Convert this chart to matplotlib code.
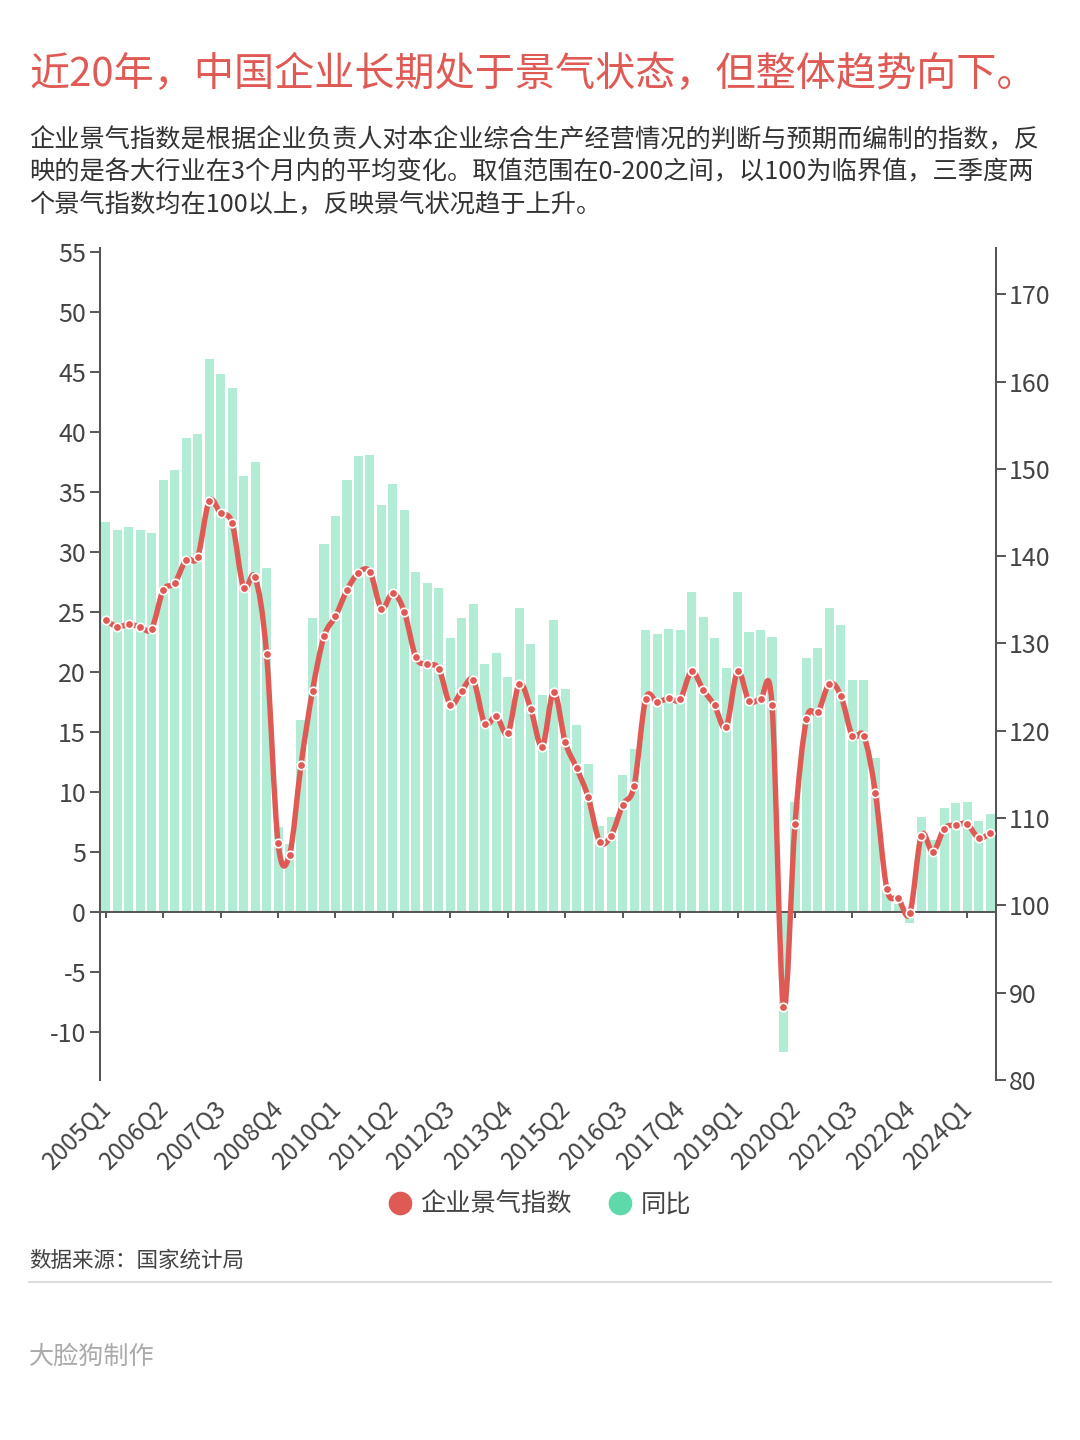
import numpy as np
import matplotlib
matplotlib.use('Agg')
from matplotlib import pyplot as plt
from matplotlib.lines import Line2D
from matplotlib.patches import PathPatch
from matplotlib.path import Path

plt.rcParams['font.family'] = ['Noto Sans CJK SC', 'DejaVu Sans']
plt.rcParams['axes.unicode_minus'] = False

# DATA
title = '近20年，中国企业长期处于景气状态，但整体趋势向下。'
intro = ['企业景气指数是根据企业负责人对本企业综合生产经营情况的判断与预期而编制的指数，反',
         '映的是各大行业在3个月内的平均变化。取值范围在0-200之间，以100为临界值，三季度两',
         '个景气指数均在100以上，反映景气状况趋于上升。']
source = '数据来源：国家统计局'
maker = '大脸狗制作'
series_names = ['企业景气指数', '同比']

# every 5th category gets a label
tick_labels = ['2005Q1', '2006Q2', '2007Q3', '2008Q4', '2010Q1', '2011Q2', '2012Q3', '2013Q4',
               '2015Q2', '2016Q3', '2017Q4', '2019Q1', '2020Q2', '2021Q3', '2022Q4', '2024Q1']

index_values = [132.7, 131.9, 132.2, 131.9, 131.7, 136.1, 136.9, 139.6, 139.9, 146.3,
                144.9, 143.8, 136.4, 137.6, 128.8, 107.2, 105.8, 116.1, 124.6, 130.8,
                133.1, 136.1, 138.1, 138.2, 134.0, 135.8, 133.6, 128.4, 127.6, 127.1,
                123.0, 124.6, 125.8, 120.8, 121.7, 119.7, 125.4, 122.5, 118.2, 124.5,
                118.7, 115.7, 112.4, 107.3, 108.0, 111.5, 113.7, 123.6, 123.3, 123.7,
                123.6, 126.8, 124.7, 122.9, 120.4, 126.8, 123.4, 123.6, 123.0, 88.4,
                109.3, 121.3, 122.1, 125.4, 124.0, 119.4, 119.4, 112.9, 101.9, 100.8,
                99.1, 108.0, 106.1, 108.8, 109.2, 109.3, 107.7, 108.3]

yoy_values = [32.5, 31.8, 32.1, 31.8, 31.6, 36.0, 36.8, 39.5, 39.8, 46.1,
              44.8, 43.7, 36.3, 37.5, 28.65, 7.1, 5.7, 16.0, 24.5, 30.7,
              33.0, 36.0, 38.0, 38.1, 33.9, 35.7, 33.5, 28.3, 27.4, 27.0,
              22.85, 24.5, 25.7, 20.7, 21.6, 19.6, 25.3, 22.35, 18.1, 24.35,
              18.6, 15.6, 12.3, 7.2, 7.9, 11.4, 13.55, 23.5, 23.2, 23.55,
              23.5, 26.65, 24.6, 22.8, 20.3, 26.65, 23.3, 23.5, 22.9, -11.7,
              9.15, 21.2, 22.0, 25.3, 23.9, 19.3, 19.3, 12.8, 1.8, 0.7,
              -0.95, 7.9, 6.0, 8.7, 9.05, 9.2, 7.6, 8.15]

left_ticks = [-10, -5, 0, 5, 10, 15, 20, 25, 30, 35, 40, 45, 50, 55]
right_ticks = [80, 90, 100, 110, 120, 130, 140, 150, 160, 170]

RED = '#e05a55'
GREEN = '#5fd9a9'
DARK = '#444444'
AXIS = '#555555'

W, H = 1080, 1440
fig = plt.figure(figsize=(W / 100, H / 100), dpi=100, facecolor='w')


def fy(y):
    return 1 - y / H


ax = fig.add_axes([100 / W, fy(1080), 896 / W, 832 / H])
ax2 = ax.twinx()

x = np.arange(len(yoy_values))
ax.bar(x, yoy_values, width=0.79, color=GREEN, alpha=0.48, linewidth=0)
ax.set_xlim(-0.5, len(x) - 0.5)
ax.set_ylim(-14, 55.33)
ax2.set_ylim(80, 175.3)

# smooth line: cardinal spline through the points, written as bezier segments
pts = np.column_stack([x, index_values]).astype(float)
n = len(pts)
verts = [tuple(pts[0])]
codes = [Path.MOVETO]
for i in range(n - 1):
    before = pts[max(i - 1, 0)]
    after = pts[min(i + 2, n - 1)]
    verts.append(tuple(pts[i] + (pts[i + 1] - before) / 6))
    verts.append(tuple(pts[i + 1] - (after - pts[i]) / 6))
    verts.append(tuple(pts[i + 1]))
    codes += [Path.CURVE4, Path.CURVE4, Path.CURVE4]
ax2.add_patch(PathPatch(Path(verts, codes), fill=False, edgecolor=RED, linewidth=3.9,
                        capstyle='round', joinstyle='round'))
ax2.plot(x, index_values, linestyle='none', marker='o', markersize=6.1,
         markerfacecolor=RED, markeredgecolor='white', markeredgewidth=1.2, zorder=5)

# axes
for a in (ax, ax2):
    a.spines['top'].set_visible(False)
    a.spines['left'].set_color(AXIS)
    a.spines['right'].set_color(AXIS)
    a.spines['left'].set_linewidth(1.4)
    a.spines['right'].set_linewidth(1.4)
    a.patch.set_visible(False)
ax.spines['bottom'].set_position(('data', 0))
ax.spines['bottom'].set_color(AXIS)
ax.spines['bottom'].set_linewidth(1.4)
ax2.spines['bottom'].set_visible(False)

ax.set_yticks(left_ticks)
ax.set_yticklabels([str(t) for t in left_ticks])
ax2.set_yticks(right_ticks)
ax.tick_params(axis='y', length=7.5, width=1.4, color=AXIS, labelcolor=DARK, labelsize=18, pad=2.5)
ax2.tick_params(axis='y', length=7.5, width=1.4, color=AXIS, labelcolor=DARK, labelsize=18, pad=1.5)

tick_pos = x[::5]
ax.set_xticks(tick_pos)
ax.tick_params(axis='x', length=4.5, width=1.4, color=AXIS, labelbottom=False)
for i, label in zip(tick_pos, tick_labels):
    ax.annotate(label, xy=(i, 0), xycoords=ax.get_xaxis_transform(),
                xytext=(-5, -11), textcoords='offset points', rotation=45,
                ha='right', va='top', rotation_mode='anchor', fontsize=17.5, color=DARK,
                annotation_clip=False)

# legend
handles = [Line2D([], [], linestyle='none', marker='o', markersize=16, color=RED),
           Line2D([], [], linestyle='none', marker='o', markersize=16, color=GREEN)]
fig.legend(handles, series_names, loc='center', bbox_to_anchor=(533 / W, fy(1205)), ncol=2,
           frameon=False, fontsize=18.2, labelcolor=DARK, handletextpad=-0.18, columnspacing=0.92)

# texts
fig.text(29 / W, fy(75), title, color=RED, fontsize=28.9, va='center', ha='left')
for line, y in zip(intro, [140.5, 172.5, 205]):
    fig.text(29 / W, fy(y), line, color='#333333', fontsize=18.2, va='center', ha='left')
fig.text(29 / W, fy(1261), source, color=DARK, fontsize=15.5, va='center', ha='left')
fig.add_artist(Line2D([29 / W, 1051 / W], [fy(1282), fy(1282)], color='#dddddd', linewidth=1.5))
fig.text(29 / W, fy(1357), maker, color='#aaaaaa', fontsize=18.1, va='center', ha='left')

fig.savefig('out.png', dpi=100)
